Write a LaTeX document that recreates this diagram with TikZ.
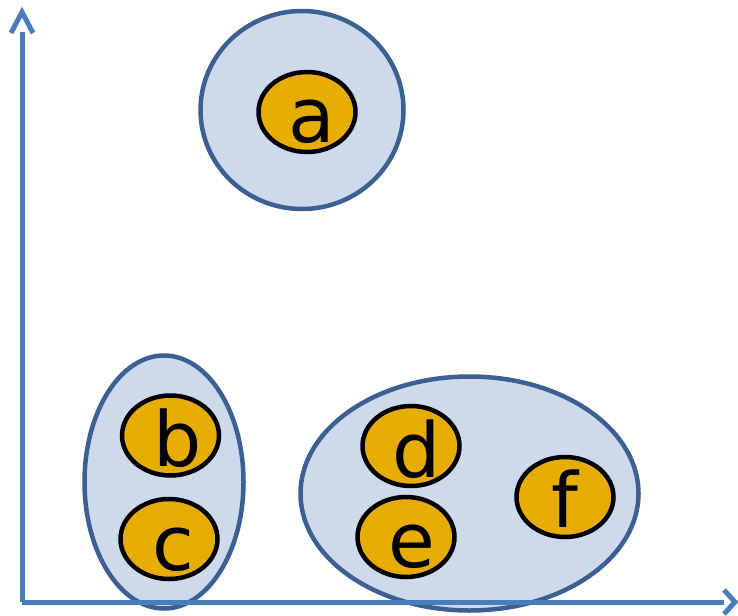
\documentclass[tikz,border=0pt]{standalone}
\usepackage{fontspec}
\setmainfont{DejaVu Sans}
\usetikzlibrary{shapes.geometric}
\definecolor{axisblue}{RGB}{74,126,187}
\definecolor{clusterline}{RGB}{60,96,145}
\definecolor{clusterfill}{RGB}{204,218,235}
\definecolor{itemfill}{RGB}{230,172,0}
\tikzset{
  cluster/.style={ellipse, draw=clusterline, fill=clusterfill, line width=4.5pt, inner sep=0pt},
  item/.style={ellipse, draw=black, fill=itemfill, line width=4.5pt, inner sep=0pt, minimum width=97pt, minimum height=80pt},
  letter/.style={anchor=base, inner sep=0pt, font=\fontsize{76}{80}\selectfont},
  axis/.style={draw=axisblue, line width=5pt},
  axishead/.style={draw=axisblue, line width=5pt, line cap=butt, line join=miter}
}
\begin{document}
\begin{tikzpicture}[x=1pt,y=-1pt]
\useasboundingbox (0,0) rectangle (738,615);
% clusters
\node[cluster, minimum width=203pt, minimum height=198pt] (ca) at (302,110) {};
\node[cluster, minimum width=159pt, minimum height=253pt] (cbc) at (164,482) {};
\node[cluster, minimum width=338pt, minimum height=234pt] (cdef) at (469.5,493.5) {};
% axes
\coordinate (o) at (22,602);
\coordinate (ytop) at (22,32);
\coordinate (xend) at (724,602);
\draw[axis] (o) -- (ytop);
\draw[axis] (o) -- (xend);
\draw[axishead] (11,33) -- (22,12) -- (33,33);
\draw[axishead] (724,590) -- (735,602) -- (724,614);
% items
\node[item] (a) at (307,112) {};
\node[item] (b) at (170.5,435.5) {};
\node[item] (c) at (169,539) {};
\node[item] (d) at (411,446) {};
\node[item] (e) at (406,537) {};
\node[item] (f) at (565,497) {};
% letters
\node[letter] (la) at (312,142) {a};
\node[letter] (lb) at (178,466) {b};
\node[letter] (lc) at (173,570) {c};
\node[letter] (ld) at (417,477) {d};
\node[letter] (le) at (412,567) {e};
\node[letter] (lf) at (565,527) {f};
\end{tikzpicture}
\end{document}
